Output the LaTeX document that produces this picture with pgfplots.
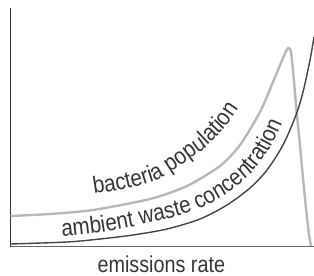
\documentclass[border=0pt]{standalone}
\usepackage{pgfplots}
\pgfplotsset{compat=1.18}
\usepackage{fontspec}
\setmainfont{Liberation Sans}
\newfontfamily\lblfont{Liberation Sans}[FakeStretch=0.88]
\newfontfamily\xlfont{Liberation Sans}[FakeStretch=0.86]
\usetikzlibrary{decorations.text}
\definecolor{lightc}{HTML}{B8B8B8}
\definecolor{darkc}{HTML}{454545}
\definecolor{textc}{HTML}{363636}
\begin{document}
\begin{tikzpicture}
\path[use as bounding box] (-10.5bp,-29.5bp) rectangle (303.5bp,246.5bp);
\begin{axis}[
  scale only axis, width=303.5bp, height=238.5bp,
  xmin=0, xmax=303.5, ymin=0, ymax=238.5,
  axis x line=bottom, axis y line=left,
  x axis line style={-, draw=black!60, line width=1.1bp},
  y axis line style={-, draw=black!80, line width=0.9bp},
  xtick=\empty, ytick=\empty,
  clip=false,
  xlabel={emissions rate},
  xlabel style={at={(axis description cs:0.497,0)}, anchor=base, yshift=-25.5bp,
    font=\xlfont\fontsize{23bp}{26bp}\selectfont, text=textc},
]
% bacteria population
\addplot[lightc, line width=2.4bp, smooth, tension=0.45] coordinates {
 (0,30.5) (39.5,32.5) (82.5,36.5) (139.5,47.5) (176.5,60.5) (209.5,80.5)
 (229.5,101.5) (249.5,134.5) (262.5,164.5) (272.5,188.5) (277.5,198.5)
 (280.5,194) (283.5,165) (286,136) (289,106) (292,74) (295.5,38) (298.5,12) (300.5,0.5)
};
% ambient waste concentration
\addplot[darkc, line width=1.4bp, smooth] coordinates {
 (0,2.5) (56.5,4.5) (89.5,7.5) (122.5,11.5) (156.5,17.5) (189.5,27.5)
 (216.5,41.5) (239.5,58.5) (256.5,76.5) (272.5,101.5) (285.5,131.5)
 (292.5,154.5) (299.5,186.5) (303.5,209.5)
};
% label guide points
\coordinate (b1) at (axis cs:83.5,52.5);
\coordinate (b2) at (axis cs:98.5,54.8);
\coordinate (b3) at (axis cs:114.5,57.5);
\coordinate (b4) at (axis cs:130.5,61.5);
\coordinate (b5) at (axis cs:146.5,66.5);
\coordinate (b6) at (axis cs:158,73);
\coordinate (b7) at (axis cs:169.5,80.5);
\coordinate (b8) at (axis cs:182,89.5);
\coordinate (b9) at (axis cs:194.5,98.5);
\coordinate (b10) at (axis cs:204.5,108);
\coordinate (b11) at (axis cs:214.5,118.5);
\coordinate (b12) at (axis cs:224.5,132);
\coordinate (b13) at (axis cs:234.5,146.5);
\coordinate (b14) at (axis cs:242,159);
\coordinate (b15) at (axis cs:249.5,171.5);
\coordinate (b16) at (axis cs:256,183.5);
\coordinate (b17) at (axis cs:262,195);
\coordinate (a1) at (axis cs:51.5,10);
\coordinate (a2) at (axis cs:69,11.6);
\coordinate (a3) at (axis cs:86.5,13.6);
\coordinate (a4) at (axis cs:104,16.4);
\coordinate (a5) at (axis cs:121.5,19.8);
\coordinate (a6) at (axis cs:138,23.3);
\coordinate (a7) at (axis cs:154.5,27.1);
\coordinate (a8) at (axis cs:170.5,31.5);
\coordinate (a9) at (axis cs:186.5,36.5);
\coordinate (a10) at (axis cs:200.5,43.5);
\coordinate (a11) at (axis cs:214.5,51.5);
\coordinate (a12) at (axis cs:227,61);
\coordinate (a13) at (axis cs:239.5,71.5);
\coordinate (a14) at (axis cs:248.5,82.5);
\coordinate (a15) at (axis cs:257.5,94.5);
\coordinate (a16) at (axis cs:264,106.5);
\coordinate (a17) at (axis cs:269.5,118.5);
\coordinate (a18) at (axis cs:274,131.5);
\coordinate (a19) at (axis cs:278,145);
\end{axis}
\path[decorate, decoration={text along path, text color=textc,
  text={|\lblfont\fontsize{23.5bp}{27bp}\selectfont|bacteria population}}]
  (b1) -- (b2) -- (b3) -- (b4) -- (b5) -- (b6) -- (b7) -- (b8) -- (b9) -- (b10)
  -- (b11) -- (b12) -- (b13) -- (b14) -- (b15) -- (b16) -- (b17);
\path[decorate, decoration={text along path, text color=textc,
  text={|\lblfont\fontsize{23.5bp}{27bp}\selectfont|ambient waste concentration}}]
  (a1) -- (a2) -- (a3) -- (a4) -- (a5) -- (a6) -- (a7) -- (a8) -- (a9) -- (a10)
  -- (a11) -- (a12) -- (a13) -- (a14) -- (a15) -- (a16) -- (a17) -- (a18) -- (a19);
\end{tikzpicture}
\end{document}
